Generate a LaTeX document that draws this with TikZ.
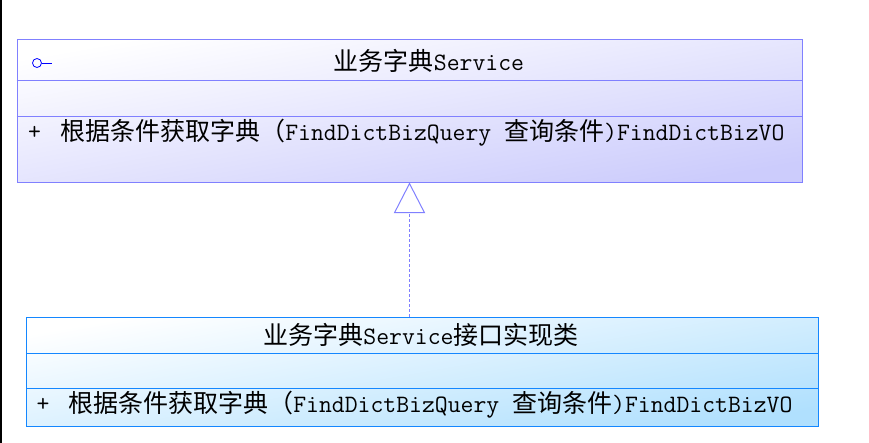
\documentclass[tikz,border=0pt]{standalone}
\usepackage{fontspec}
\usepackage{tikz}
\usetikzlibrary{arrows.meta}
\newfontfamily\cjk{Noto Sans CJK SC}
\definecolor{S}{RGB}{128,128,255}
\definecolor{SF}{RGB}{204,204,252}
\definecolor{I}{RGB}{20,135,255}
\definecolor{IF}{RGB}{176,224,254}
\newcommand{\zh}[1]{{\cjk #1}}
\newcommand{\method}{\zh{根据条件获取字典（}FindDictBizQuery \zh{查询条件})FindDictBizVO}
\newcommand{\compartment}[3]{\draw[#1, line width=0.75pt] (#2.west |- 0,#3) -- (#2.east |- 0,#3);}
\tikzset{
  classbox/.style={draw=#1, line width=0.75pt, inner sep=0pt, top color=white, bottom color=#1F, shading angle=10},
  txt/.style={inner sep=0pt},
  realize/.style={S, line width=0.75pt, dash pattern=on 2.25pt off 1.5pt, -{Triangle[open, length=23pt, width=23.5pt, fill=white]}}
}
\begin{document}
\begin{tikzpicture}[x=0.75pt, y=-0.75pt, font=\ttfamily\fontsize{18.75}{22}\selectfont]
\useasboundingbox (0,0) rectangle (869,443);
\fill[black] (0,0) rectangle (2,443);
\node[classbox=S, minimum width=588.75pt, minimum height=107.25pt] (svc) at (409.5,110.5) {};
\compartment{S}{svc}{80}\compartment{S}{svc}{116}
\node[circle, draw=blue, line width=0.6pt, minimum size=6.75pt, inner sep=0pt] (ifc) at (37,63) {};
\draw[blue, line width=0.6pt] (ifc.east) -- ++(10,0);
\node[txt] (svcname) at (429,61) {\zh{业务字典}Service};
\node[txt] (svcplus) at (34.5,133) {+};
\node[txt, anchor=west] (svcop) at (60,133) {\method};
\node[classbox=I, minimum width=594pt, minimum height=81.75pt] (impl) at (422.5,371.5) {};
\compartment{I}{impl}{353}\compartment{I}{impl}{388.5}
\node[txt] (implname) at (421,335) {\zh{业务字典}Service\zh{接口实现类}};
\node[txt] (implplus) at (43,405) {+};
\node[txt, anchor=west] (implop) at (68,405) {\method};
\coordinate (base) at (svc.south |- impl.north);
\draw[realize] (base) -- (svc.south);
\end{tikzpicture}
\end{document}
